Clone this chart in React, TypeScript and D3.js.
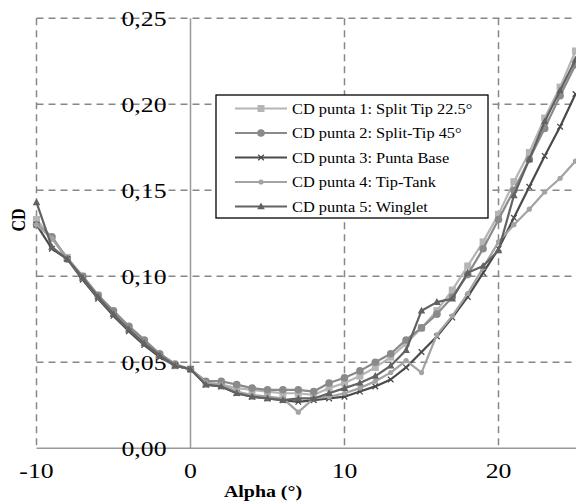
import React from "react";
import * as d3 from "d3";

const alpha = [-10, -9, -8, -7, -6, -5, -4, -3, -2, -1, 0, 1, 2, 3, 4, 5, 6, 7, 8, 9, 10, 11, 12, 13, 14, 15, 16, 17, 18, 19, 20, 21, 22, 23, 24, 25];

const cd1 = [0.133, 0.122, 0.111, 0.100, 0.089, 0.079, 0.070, 0.062, 0.054, 0.048, 0.046, 0.038, 0.037, 0.035, 0.034, 0.033, 0.032, 0.032, 0.031, 0.035, 0.038, 0.042, 0.047, 0.053, 0.061, 0.070, 0.080, 0.092, 0.106, 0.120, 0.136, 0.155, 0.172, 0.192, 0.210, 0.231];
const cd2 = [0.130, 0.123, 0.110, 0.100, 0.089, 0.080, 0.071, 0.063, 0.055, 0.049, 0.046, 0.039, 0.039, 0.037, 0.035, 0.034, 0.034, 0.034, 0.033, 0.038, 0.041, 0.045, 0.050, 0.055, 0.063, 0.070, 0.078, 0.088, 0.101, 0.116, 0.133, 0.150, 0.168, 0.186, 0.205, 0.223];
const cd3 = [0.130, 0.116, 0.110, 0.098, 0.087, 0.077, 0.068, 0.060, 0.053, 0.048, 0.046, 0.037, 0.036, 0.032, 0.030, 0.029, 0.028, 0.027, 0.028, 0.029, 0.030, 0.033, 0.036, 0.040, 0.047, 0.056, 0.065, 0.076, 0.088, 0.102, 0.116, 0.134, 0.152, 0.170, 0.187, 0.206];
const cd4 = [0.130, 0.122, 0.110, 0.099, 0.088, 0.078, 0.069, 0.061, 0.054, 0.048, 0.046, 0.038, 0.037, 0.033, 0.031, 0.030, 0.029, 0.021, 0.029, 0.030, 0.032, 0.035, 0.039, 0.044, 0.051, 0.044, 0.066, 0.077, 0.090, 0.105, 0.120, 0.130, 0.139, 0.149, 0.157, 0.167];
const cd5 = [0.143, 0.117, 0.110, 0.099, 0.088, 0.078, 0.069, 0.061, 0.054, 0.048, 0.046, 0.037, 0.036, 0.032, 0.030, 0.029, 0.028, 0.029, 0.029, 0.032, 0.035, 0.038, 0.042, 0.048, 0.057, 0.080, 0.085, 0.087, 0.102, 0.106, 0.115, 0.147, 0.168, 0.190, 0.208, 0.226];

const seriesNames = [
  "CD punta 1: Split Tip 22.5°",
  "CD punta 2: Split-Tip 45°",
  "CD punta 3: Punta Base",
  "CD punta 4: Tip-Tank",
  "CD punta 5: Winglet",
];
const seriesColors = ["#b5b5b5", "#8a8a8a", "#4a4a4a", "#a3a3a3", "#626262"];
const seriesMarkers = ["square", "circle", "cross", "diamond", "triangle"];
const seriesValues = [cd1, cd2, cd3, cd4, cd5];

const xTicks = [-10, 0, 10, 20];
const yTicks = [0, 0.05, 0.1, 0.15, 0.2, 0.25];
const yTickLabels = ["0,00", "0,05", "0,10", "0,15", "0,20", "0,25"];

const FONT = "'Liberation Serif', 'Times New Roman', serif";
const SX = 1.17;

function Marker({ type, x, y, color }: { type: string; x: number; y: number; color: string }) {
  if (type === "square") return <rect x={x - 3.5} y={y - 3.5} width={7} height={7} fill={color} />;
  if (type === "circle") return <circle cx={x} cy={y} r={3.8} fill={color} />;
  if (type === "diamond") return <circle cx={x} cy={y} r={2.6} fill={color} />;
  if (type === "triangle")
    return <path d={`M${x},${y - 4} L${x + 3.8},${y + 2.8} L${x - 3.8},${y + 2.8} Z`} fill={color} />;
  return (
    <path d={`M${x - 2.8},${y - 2.8} L${x + 2.8},${y + 2.8} M${x - 2.8},${y + 2.8} L${x + 2.8},${y - 2.8}`} stroke={color} strokeWidth={1.3} />
  );
}

function SText({ x, y, children, anchor = "start", size, weight = "normal", rotate = 0 }: any) {
  const t = rotate ? `translate(${x},${y}) rotate(${rotate}) scale(1,${SX})` : `translate(${x},${y}) scale(${SX},1)`;
  return (
    <text transform={t} textAnchor={anchor} fontFamily={FONT} fontSize={size} fontWeight={weight} fill="#000">
      {children}
    </text>
  );
}

export default function App() {
  const W = 576, H = 504;
  const x = d3.scaleLinear().domain([-10, 25]).range([36.5, 575.5]);
  const y = d3.scaleLinear().domain([0, 0.25]).range([448.3, 18.3]);
  const line = d3.line<number>().x((_, i) => x(alpha[i])).y((v) => y(v));

  const legend = { x0: 216, y0: 95, x1: 488, y1: 218 };
  const rowY = [108.5, 133, 157.5, 182, 206.5];

  return (
    <svg width={W} height={H} style={{ position: "absolute", left: 0, top: 0, background: "#fff" }}>
      <rect width={W} height={H} fill="#fff" />
      {/* horizontal gridlines */}
      {yTicks.filter((t) => t > 0).map((t) => (
        <line key={"h" + t} x1={x(-10)} x2={W} y1={y(t)} y2={y(t)} stroke="#888" strokeWidth={1.5} strokeDasharray="7,5" />
      ))}
      {/* vertical gridlines */}
      {xTicks.filter((t) => t !== 0).map((t) => (
        <line key={"v" + t} x1={x(t)} x2={x(t)} y1={y(0.25)} y2={y(0)} stroke="#888" strokeWidth={1.5} strokeDasharray="7,5" />
      ))}
      {/* axes */}
      <line x1={x(-10)} x2={W} y1={y(0)} y2={y(0)} stroke="#999" strokeWidth={1.5} />
      <line x1={x(0)} x2={x(0)} y1={y(0.25)} y2={y(0)} stroke="#999" strokeWidth={1.5} />

      {/* y tick labels */}
      {yTicks.map((t, i) => (
        <SText key={"yl" + t} x={166.5} y={y(t) + 7.5} anchor="end" size={22}>
          {yTickLabels[i]}
        </SText>
      ))}
      {/* x tick labels */}
      {xTicks.map((t) => (
        <SText key={"xl" + t} x={x(t)} y={478} anchor="middle" size={22}>
          {String(t)}
        </SText>
      ))}

      {/* series */}
      {seriesValues.map((vals, s) => (
        <g key={"s" + s}>
          <path d={line(vals) || ""} fill="none" stroke={seriesColors[s]} strokeWidth={2.2} strokeLinejoin="round" />
          {vals.map((v, i) => (
            <Marker key={i} type={seriesMarkers[s]} x={x(alpha[i])} y={y(v)} color={seriesColors[s]} />
          ))}
        </g>
      ))}

      {/* legend */}
      <rect x={legend.x0} y={legend.y0} width={legend.x1 - legend.x0} height={legend.y1 - legend.y0} fill="#fff" stroke="#000" strokeWidth={1.3} />
      {seriesNames.map((n, s) => (
        <g key={"lg" + s}>
          <line x1={235} x2={287} y1={rowY[s]} y2={rowY[s]} stroke={seriesColors[s]} strokeWidth={2.2} />
          <Marker type={seriesMarkers[s]} x={261} y={rowY[s]} color={seriesColors[s]} />
          <SText x={292} y={rowY[s] + 5} size={14}>
            {n}
          </SText>
        </g>
      ))}

      {/* axis titles */}
      <SText x={263} y={497} anchor="middle" size={17} weight="bold">
        Alpha (°)
      </SText>
      <SText x={25} y={220} anchor="middle" size={16} weight="bold" rotate={-90}>
        CD
      </SText>
    </svg>
  );
}
